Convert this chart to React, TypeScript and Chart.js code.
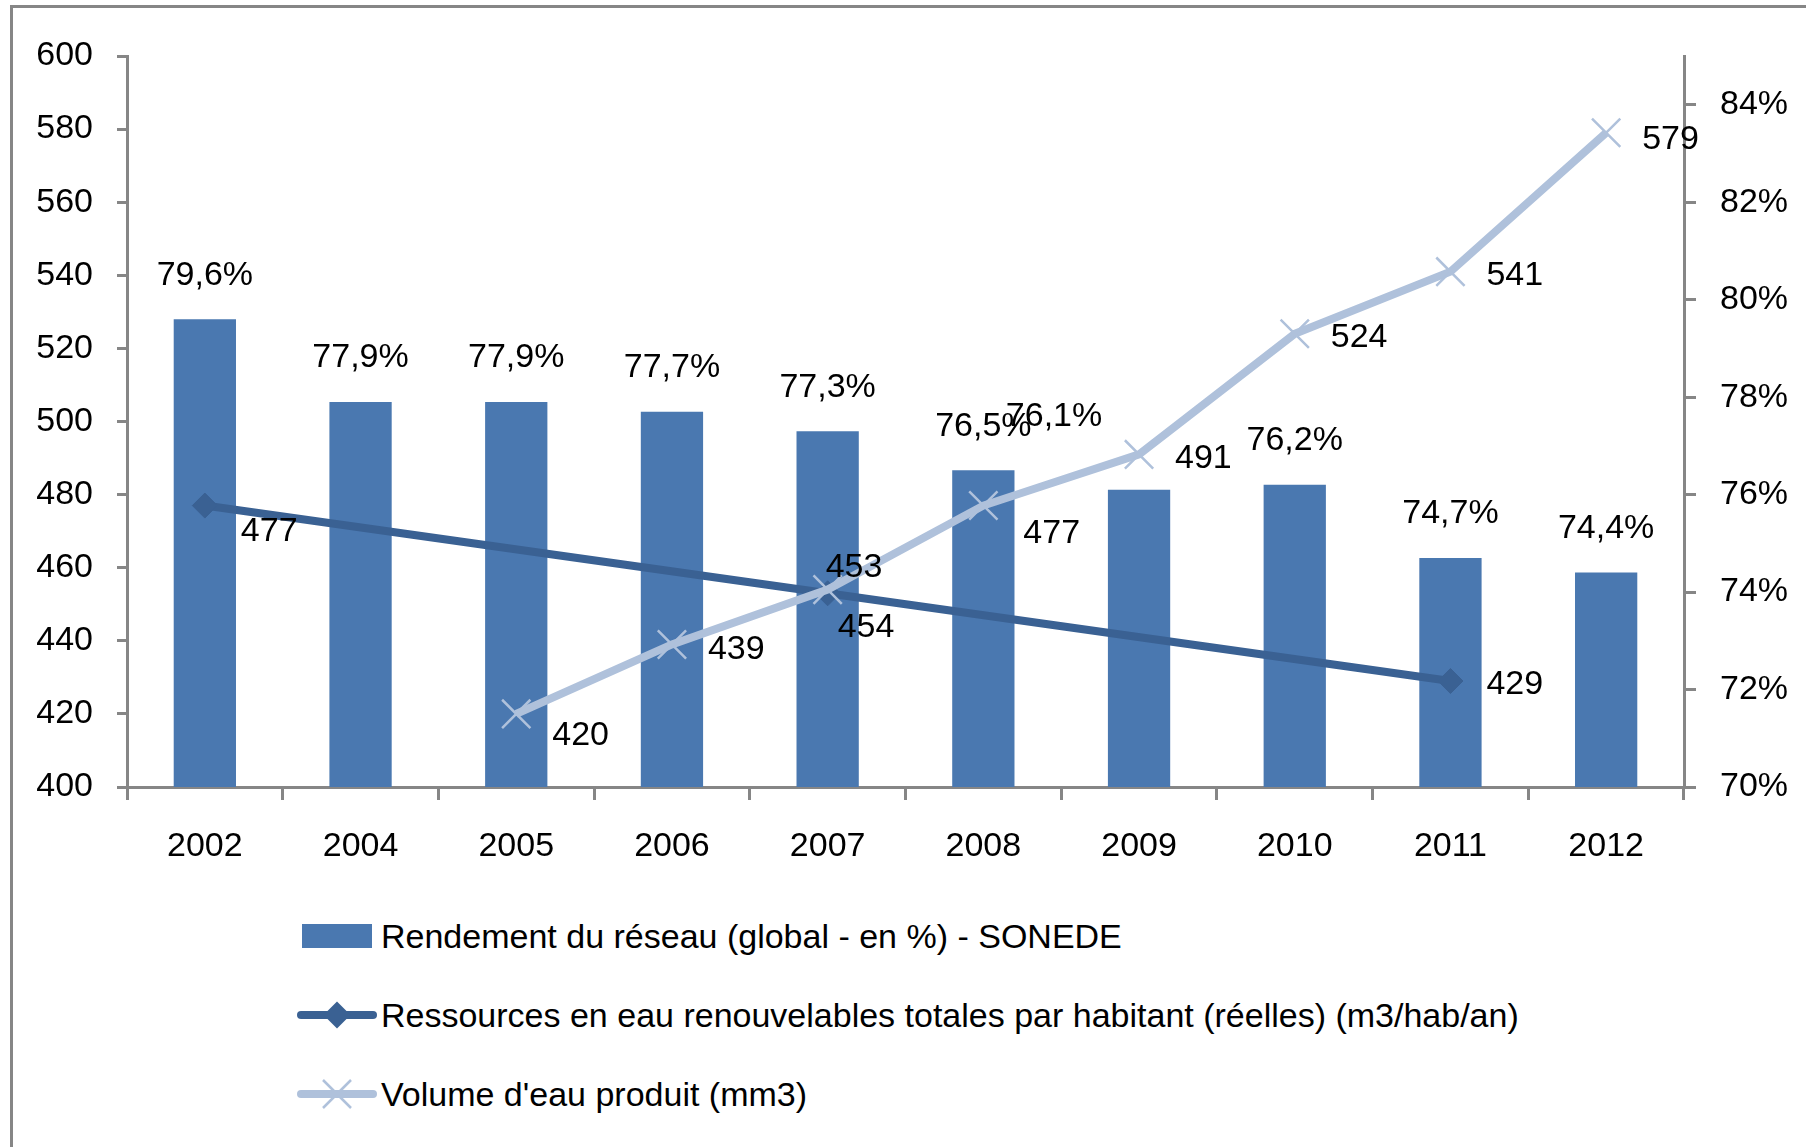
import React, { useEffect, useRef } from "react";
import { Chart, registerables } from "chart.js";

Chart.register(...registerables);

// ---------- Data ----------
const years = ["2002", "2004", "2005", "2006", "2007", "2008", "2009", "2010", "2011", "2012"];
const rendement = [79.6, 77.9, 77.9, 77.7, 77.3, 76.5, 76.1, 76.2, 74.7, 74.4];
const ressources = [477, null, null, null, 453, null, null, null, 429, null];
const volume = [null, null, 420, 439, 454, 477, 491, 524, 541, 579];

const leftAxisMin = 400;
const leftAxisMax = 600;
const leftAxisStep = 20;
const rightAxisMin = 70;
const rightAxisMax = 85;
const rightAxisStep = 2;

const legendLabels = [
  "Rendement du réseau (global - en %) - SONEDE",
  "Ressources en eau renouvelables totales par habitant (réelles) (m3/hab/an)",
  "Volume d'eau produit (mm3)",
];

// ---------- Styles ----------
const FONT = "'Liberation Sans', 'Arial', sans-serif";
const FONT_SIZE = 34;
const BAR_COLOR = "#4A78B0";
const DARK_COLOR = "#3A6193";
const LIGHT_COLOR = "#AFC1DB";
const AXIS_COLOR = "#868686";

const W = 1806;
const CANVAS_H = 900;

const labelPlugin = {
  id: "valueLabels",
  afterDatasetsDraw(chart: any, _args: any, opts: any) {
    const ctx = chart.ctx;
    ctx.save();
    ctx.font = `${FONT_SIZE}px ${FONT}`;
    ctx.fillStyle = "#000";
    ctx.textBaseline = "middle";
    chart.data.datasets.forEach((ds: any, di: number) => {
      const meta = chart.getDatasetMeta(di);
      const nudges = (opts.nudges && opts.nudges[ds.key]) || {};
      meta.data.forEach((el: any, i: number) => {
        const v = ds.data[i];
        if (v == null) return;
        const n = nudges[i] || [0, 0];
        if (ds.type === "line") {
          ctx.textAlign = "left";
          ctx.fillText(String(v), el.x + 36 + n[0], el.y + 4 + n[1]);
        } else {
          ctx.textAlign = "center";
          const t = v.toFixed(1).replace(".", ",") + "%";
          ctx.fillText(t, el.x + n[0], el.y - 44 + n[1]);
        }
      });
    });
    ctx.restore();
  },
};

function LegendMarker({ kind }: { kind: number }) {
  if (kind === 0) {
    return (
      <svg width={80} height={40} style={{ display: "block" }}>
        <rect x={5} y={8} width={70} height={24} fill={BAR_COLOR} />
      </svg>
    );
  }
  if (kind === 1) {
    return (
      <svg width={80} height={40} style={{ display: "block" }}>
        <line x1={4} y1={20} x2={76} y2={20} stroke={DARK_COLOR} strokeWidth={8} strokeLinecap="round" />
        <polygon points="40,6.5 53.5,20 40,33.5 26.5,20" fill={DARK_COLOR} />
      </svg>
    );
  }
  return (
    <svg width={80} height={40} style={{ display: "block" }}>
      <line x1={4} y1={20} x2={76} y2={20} stroke={LIGHT_COLOR} strokeWidth={8} strokeLinecap="round" />
      <line x1={26} y1={6} x2={54} y2={34} stroke={LIGHT_COLOR} strokeWidth={2.5} />
      <line x1={26} y1={34} x2={54} y2={6} stroke={LIGHT_COLOR} strokeWidth={2.5} />
    </svg>
  );
}

export default function App() {
  const canvasRef = useRef<HTMLCanvasElement | null>(null);

  useEffect(() => {
    const canvas = canvasRef.current;
    if (!canvas) return;
    const chart = new Chart(canvas, {
      type: "bar",
      data: {
        labels: years,
        datasets: [
          {
            key: "volume",
            type: "line",
            label: legendLabels[2],
            data: volume,
            yAxisID: "y",
            borderColor: LIGHT_COLOR,
            borderWidth: 8,
            pointStyle: "crossRot",
            pointRadius: 20,
            pointBorderWidth: 2.5,
            pointBorderColor: LIGHT_COLOR,
            pointBackgroundColor: LIGHT_COLOR,
            spanGaps: true,
            tension: 0,
            fill: false,
            order: 1,
          },
          {
            key: "ressources",
            type: "line",
            label: legendLabels[1],
            data: ressources,
            yAxisID: "y",
            borderColor: DARK_COLOR,
            borderWidth: 8,
            pointStyle: "rectRot",
            pointRadius: 12.5,
            pointBorderWidth: 1,
            pointBorderColor: DARK_COLOR,
            pointBackgroundColor: DARK_COLOR,
            spanGaps: true,
            tension: 0,
            fill: false,
            order: 2,
          },
          {
            key: "rendement",
            type: "bar",
            label: legendLabels[0],
            data: rendement,
            yAxisID: "y1",
            backgroundColor: BAR_COLOR,
            barPercentage: 0.4,
            categoryPercentage: 1,
            order: 3,
          },
        ] as any,
      },
      options: {
        responsive: false,
        animation: false,
        devicePixelRatio: 1,
        layout: { padding: { top: 56, left: 0, right: 0, bottom: 0 } },
        plugins: {
          legend: { display: false },
          tooltip: { enabled: false },
          valueLabels: {
            nudges: {
              rendement: { 6: [-85, -29] },
              ressources: { 0: [0, 22], 4: [-38, -30], 8: [0, 0] },
              volume: { 2: [0, 18], 3: [0, 1], 4: [-26, 34], 5: [4, 24], 9: [0, 3] },
            },
          },
        } as any,
        scales: {
          x: {
            offset: true,
            grid: {
              offset: true,
              drawOnChartArea: false,
              drawTicks: true,
              tickLength: 13,
              color: AXIS_COLOR,
              lineWidth: 3,
            },
            border: { color: AXIS_COLOR, width: 3 },
            ticks: {
              color: "#000",
              font: { family: FONT, size: FONT_SIZE },
              padding: 26,
              maxRotation: 0,
              autoSkip: false,
            },
            afterFit(s: any) {
              s.height = CANVAS_H - 787;
            },
          },
          y: {
            position: "left",
            min: leftAxisMin,
            max: leftAxisMax,
            grid: {
              drawOnChartArea: false,
              drawTicks: true,
              tickLength: 10,
              color: AXIS_COLOR,
              lineWidth: 3,
            },
            border: { color: AXIS_COLOR, width: 3 },
            ticks: {
              stepSize: leftAxisStep,
              color: "#000",
              font: { family: FONT, size: FONT_SIZE },
              padding: 24,
            },
            afterFit(s: any) {
              s.width = 127;
            },
          },
          y1: {
            position: "right",
            min: rightAxisMin,
            max: rightAxisMax,
            grid: {
              drawOnChartArea: false,
              drawTicks: true,
              tickLength: 12,
              color: AXIS_COLOR,
              lineWidth: 3,
            },
            border: { color: AXIS_COLOR, width: 3 },
            ticks: {
              stepSize: rightAxisStep,
              includeBounds: false,
              color: "#000",
              font: { family: FONT, size: FONT_SIZE },
              padding: 24,
              callback: (v: any) => `${v}%`,
            },
            afterFit(s: any) {
              s.width = W - 1684;
            },
          },
        } as any,
      },
      plugins: [labelPlugin],
    });
    return () => chart.destroy();
  }, []);

  const rowY = [936, 1015, 1094];

  return (
    <div style={{ position: "absolute", left: 0, top: 0, width: W, height: 1147, overflow: "hidden", background: "#fff" }}>
      <div
        style={{
          position: "absolute",
          left: 10,
          top: 5,
          width: W - 10,
          height: 1147 - 5,
          borderLeft: `3px solid ${AXIS_COLOR}`,
          borderTop: `3px solid ${AXIS_COLOR}`,
          boxSizing: "border-box",
        }}
      />
      <canvas
        ref={canvasRef}
        width={W}
        height={CANVAS_H}
        style={{ position: "absolute", left: 0, top: 0, width: W, height: CANVAS_H }}
      />
      {legendLabels.map((lab, i) => (
        <div
          key={lab}
          style={{
            position: "absolute",
            left: 297,
            top: rowY[i] - 20,
            height: 40,
            display: "flex",
            alignItems: "center",
            whiteSpace: "nowrap",
          }}
        >
          <LegendMarker kind={i} />
          <span style={{ fontFamily: FONT, fontSize: FONT_SIZE, color: "#000", marginLeft: 4, lineHeight: "40px" }}>{lab}</span>
        </div>
      ))}
    </div>
  );
}
